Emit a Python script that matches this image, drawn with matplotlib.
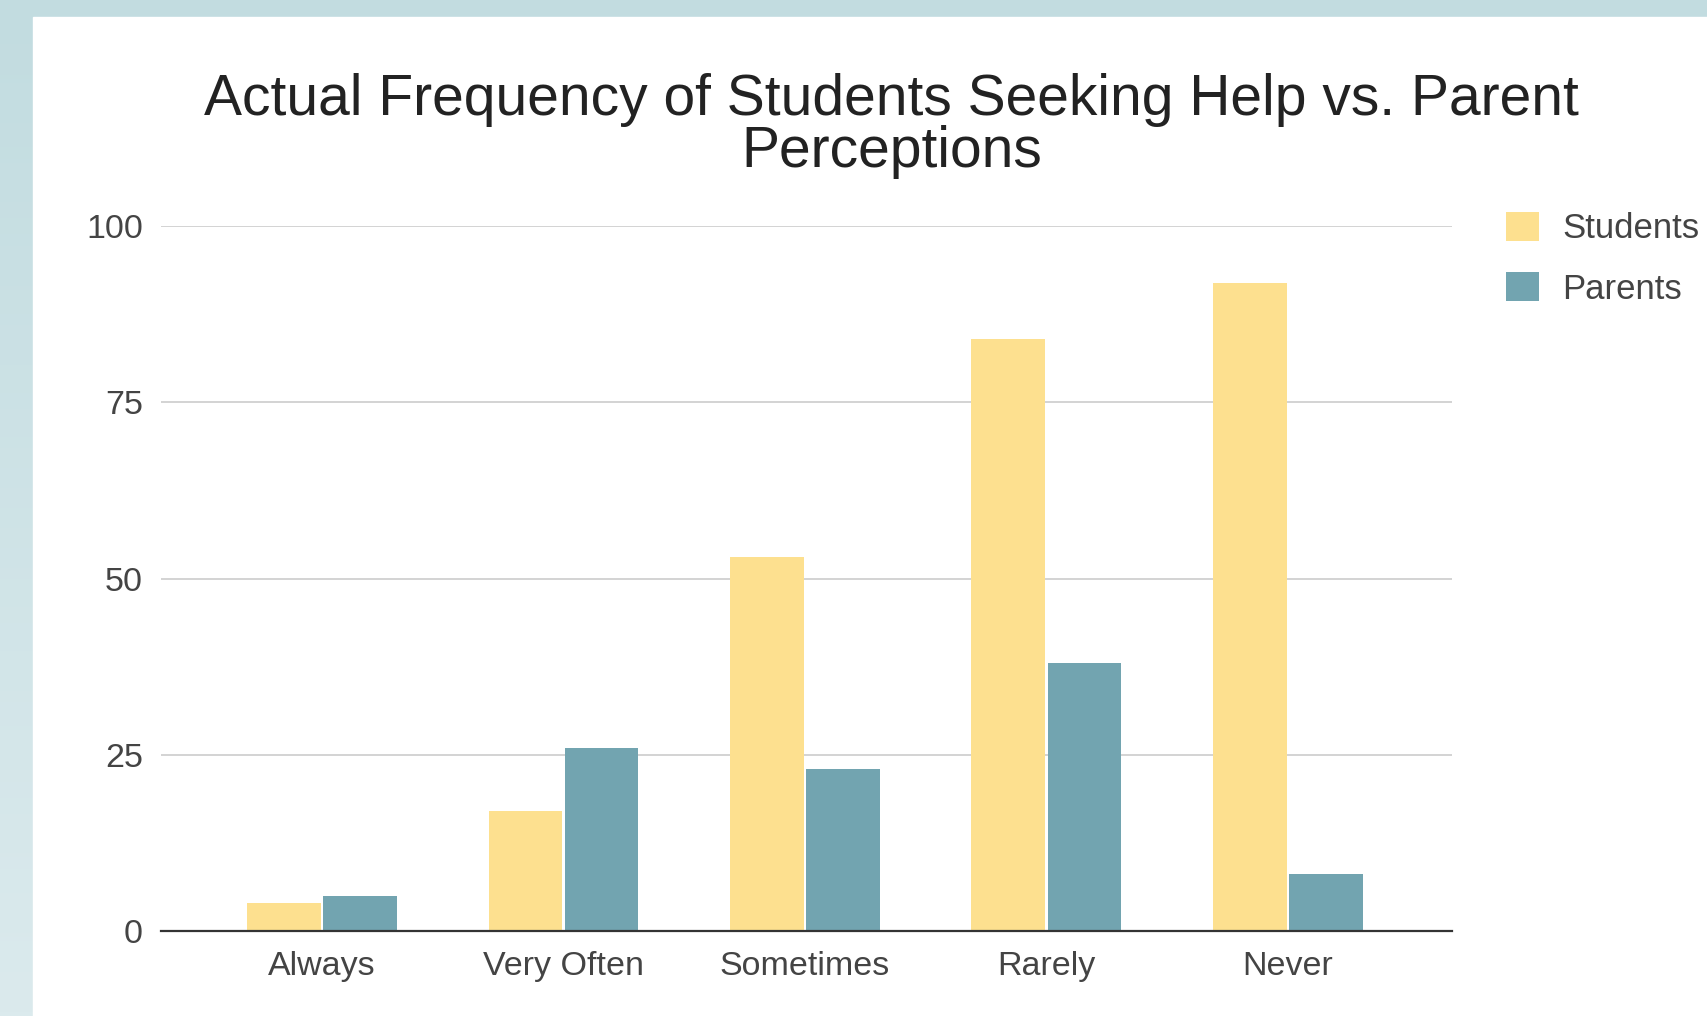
import numpy as np
import matplotlib
matplotlib.use("Agg")
from matplotlib import pyplot as plt
from matplotlib.patches import Rectangle

plt.rcParams['font.family'] = ['Liberation Sans', 'DejaVu Sans']

categories = ['Always', 'Very Often', 'Sometimes', 'Rarely', 'Never']
students = [4, 17, 53, 84, 92]
parents = [5, 26, 23, 38, 8]
yticks = [0, 25, 50, 75, 100]

student_color = '#fde08f'
parent_color = '#72a4b0'

fig = plt.figure(figsize=(17.07, 10.16), dpi=100)

# backdrop: pale teal gradient with a white card on top
bg = fig.add_axes([0, 0, 1, 1], zorder=-10)
grad = np.linspace(0, 1, 256).reshape(-1, 1)
cmap = matplotlib.colors.LinearSegmentedColormap.from_list('bg', ['#c2dce0', '#dbeaed'])
bg.imshow(grad, aspect='auto', cmap=cmap, extent=[0, 1, 0, 1], origin='upper')
bg.add_patch(Rectangle((33 / 1707, 0), 1, 1 - 17 / 1016, color='white'))
bg.set_xlim(0, 1)
bg.set_ylim(0, 1)
bg.axis('off')

ax = fig.add_axes([0.0943, 0.0839, 0.7563, 0.6933])
ax.set_facecolor('none')
x = np.arange(len(categories))
w = 0.305
ax.bar(x - w / 2 - 0.005, students, w, color=student_color, label='Students', zorder=3)
ax.bar(x + w / 2 + 0.005, parents, w, color=parent_color, label='Parents', zorder=3)

ax.set_xlim(-0.667, 4.68)
ax.set_ylim(0, 100)
ax.set_yticks(yticks)
ax.set_xticks(x)
ax.set_xticklabels(categories)
ax.tick_params(axis='both', length=0, labelsize=24.5, colors='#444444')
ax.tick_params(axis='y', pad=13)
ax.tick_params(axis='x', pad=14.5)
ax.grid(axis='y', color='#d0d0d0', linewidth=1.3, zorder=0)
for s in ['top', 'right', 'left']:
    ax.spines[s].set_visible(False)
ax.spines['bottom'].set_color('#333333')
ax.spines['bottom'].set_linewidth(1.6)
ax.spines['bottom'].set_zorder(4)

fig.text(0.5223, 0.876, 'Actual Frequency of Students Seeking Help vs. Parent\nPerceptions',
         ha='center', va='center', fontsize=41, color='#222222', linespacing=0.95)

ax.legend(loc='upper left', bbox_to_anchor=(1.0418, 1.021), frameon=False, fontsize=25,
          borderaxespad=0, borderpad=0,
          handlelength=0.94, handleheight=0.94, handletextpad=0.69, labelspacing=0.76,
          labelcolor='#444444')

fig.savefig('out.png', dpi=100)
